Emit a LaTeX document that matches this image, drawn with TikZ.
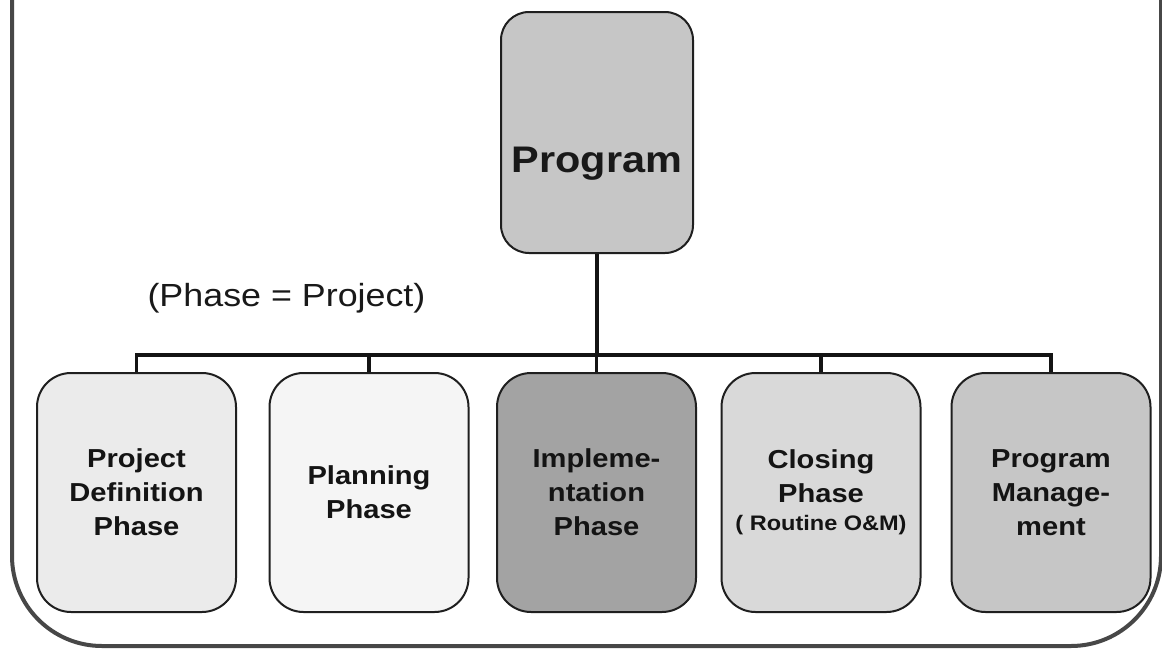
\documentclass[tikz,border=0pt]{standalone}
\usepackage{fontspec}
\newfontfamily\lsans[FakeStretch=1.12]{Liberation Sans}
\begin{document}
\begin{tikzpicture}[x=1pt,y=-1pt,
  phase/.style={draw=black!88, line width=2pt, rounded corners=34pt,
    minimum width=199pt, minimum height=239pt, align=center, text=black!92,
    font=\lsans\bfseries\fontsize{26}{34}\selectfont},
  bus/.style={line width=3.2pt, draw=black!92},
  outer/.style={draw=black!72, line width=4pt, rounded corners=90pt},
  lbl/.style={text=black!90, anchor=base}]
\useasboundingbox (0,0) rectangle (1162,648);
\clip (0,0) rectangle (1162,648);
\fill[white] (0,0) rectangle (1162,648);
\draw[outer] (12,-300) rectangle (1161,646);

\node[phase, fill=gray!45, minimum width=192pt, minimum height=241pt, rounded corners=28pt] (program) at (597,132.5) {};
\node[lbl, font=\lsans\bfseries\fontsize{37}{40}\selectfont] (programtext) at (597,172) {Program};

\node[phase, fill=gray!16] (p1) at (136.5,492.5) {Project\\Definition\\Phase};
\node[phase, fill=gray!8] (p2) at (369,492.5) {Planning\\Phase};
\node[phase, fill=gray!72] (p3) at (596.5,492.5) {Impleme-\\ntation\\Phase};
\node[phase, fill=gray!30] (p4) at (821,492.5) {Closing\\Phase\\[-6pt]{\fontsize{21}{26}\selectfont( Routine O\&M)}};
\node[phase, fill=gray!45] (p5) at (1051,492.5) {Program\\Manage-\\ment};

\coordinate (bus) at (0,355);
\draw[bus] (program.south) -- (program.south |- bus);
\draw[bus] (p1.north) -- (p1.north |- bus) -- (p5.north |- bus) -- (p5.north);
\foreach \n in {p2,p3,p4} \draw[bus] (\n.north) -- (\n.north |- bus);

\node[lbl, font=\lsans\fontsize{32}{36}\selectfont] (note) at (286.5,306) {(Phase = Project)};
\end{tikzpicture}
\end{document}
